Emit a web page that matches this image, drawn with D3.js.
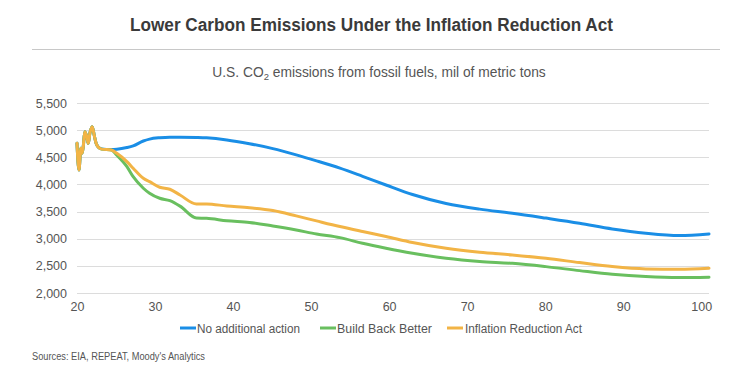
<!DOCTYPE html>
<html>
<head>
<meta charset="utf-8">
<script src="https://cdn.jsdelivr.net/npm/d3@7"></script>
<style>
  html, body { margin: 0; padding: 0; background: #fff; }
  svg { display: block; font-family: "Liberation Sans", Arial, sans-serif; }
</style>
</head>
<body>
<svg id="chart" width="745" height="378"></svg>
<script>
// ---- Data ----
const periods = [20.0, 20.25, 20.5, 20.65, 20.8, 21.0, 21.25, 21.45, 21.65, 21.95, 22.2, 22.45, 22.75, 23.15,
  24.4, 25.1, 26.4, 27.2, 28.5, 29.3, 30.6, 31.9, 33.2, 35.3, 36.6, 39.2, 42.1, 45.1, 48.1, 50.7,
  53.7, 56.6, 59.6, 63.0, 67.3, 71.6, 75.8, 80.1, 84.4, 88.6, 92.9, 97.2, 101];

const noAction = [4757, 4266, 4665, 4573, 4697, 4972, 4881, 4757, 4942, 5064, 4911, 4757, 4684, 4655,
  4645, 4650, 4680, 4710, 4800, 4835, 4860, 4870, 4870, 4865, 4858, 4820, 4750, 4660, 4545, 4435,
  4300, 4150, 3990, 3815, 3650, 3545, 3470, 3380, 3285, 3180, 3100, 3057, 3087];

const buildBackBetter = [4757, 4266, 4665, 4573, 4697, 4972, 4881, 4757, 4942, 5064, 4911, 4757, 4684, 4650,
  4635, 4540, 4327, 4142, 3930, 3838, 3745, 3700, 3600, 3380, 3376, 3330, 3300, 3234, 3160, 3087,
  3020, 2915, 2823, 2731, 2639, 2580, 2547, 2486, 2412, 2345, 2302, 2284, 2290];

const inflationReductionAct = [4757, 4266, 4665, 4573, 4697, 4972, 4881, 4757, 4942, 5064, 4911, 4757, 4684, 4650,
  4635, 4573, 4420, 4297, 4113, 4051, 3948, 3911, 3806, 3640, 3640, 3603, 3570, 3518, 3420, 3328,
  3224, 3132, 3040, 2929, 2823, 2750, 2700, 2640, 2560, 2486, 2443, 2437, 2455];

const seriesNames = ["No additional action", "Build Back Better", "Inflation Reduction Act"];
const seriesColors = ["#1a8ee6", "#69bf5f", "#f2b446"];
const xTicks = [20, 30, 40, 50, 60, 70, 80, 90, 100];
const yTicks = [2000, 2500, 3000, 3500, 4000, 4500, 5000, 5500];

const title = "Lower Carbon Emissions Under the Inflation Reduction Act";
const source = "Sources: EIA, REPEAT, Moody's Analytics";

// ---- Layout ----
const svg = d3.select("#chart");
const plot = { left: 77, right: 709, top: 103, bottom: 293 };

const x = d3.scaleLinear().domain([20, 101]).range([plot.left, plot.right]);
const y = d3.scaleLinear().domain([2000, 5500]).range([plot.bottom, plot.top]);

function fitText(sel, width) {
  sel.attr("textLength", width).attr("lengthAdjust", "spacingAndGlyphs");
}

// Title
svg.append("text")
  .attr("x", 130).attr("y", 31)
  .attr("font-size", 18).attr("font-weight", "bold").attr("fill", "#3a3a3a")
  .text(title).call(fitText, 483);

// Rule
svg.append("line")
  .attr("x1", 32).attr("x2", 720).attr("y1", 49.5).attr("y2", 49.5)
  .attr("stroke", "#c8c8c8").attr("stroke-width", 1.2);

// Subtitle
const sub = svg.append("text")
  .attr("x", 379).attr("y", 77).attr("text-anchor", "middle")
  .attr("font-size", 13.8).attr("fill", "#555");
sub.append("tspan").text("U.S. CO");
sub.append("tspan").attr("font-size", 9.5).attr("dy", 3).text("2");
sub.append("tspan").attr("dy", -3).text(" emissions from fossil fuels, mil of metric tons");

// Gridlines
svg.append("g")
  .selectAll("line").data(yTicks).join("line")
  .attr("x1", plot.left).attr("x2", plot.right)
  .attr("y1", d => Math.round(y(d)) + 0.5).attr("y2", d => Math.round(y(d)) + 0.5)
  .attr("stroke", "#dcdcdc").attr("stroke-width", 1);

// Y axis labels
const yAxis = d3.axisLeft(y).tickValues(yTicks).tickFormat(d3.format(",")).tickSize(0).tickPadding(10);
const gy = svg.append("g").attr("transform", `translate(${plot.left},0)`).call(yAxis);
gy.select(".domain").remove();
gy.selectAll("text").attr("font-size", 12.5).attr("fill", "#555").attr("font-family", "Liberation Sans, Arial, sans-serif");

// X axis labels
const xAxis = d3.axisBottom(x).tickValues(xTicks).tickFormat(d3.format("d")).tickSize(0).tickPadding(9);
const gx = svg.append("g").attr("transform", `translate(0,${plot.bottom})`).call(xAxis);
gx.select(".domain").remove();
gx.selectAll("text").attr("font-size", 12.5).attr("fill", "#555").attr("font-family", "Liberation Sans, Arial, sans-serif");

// Lines
const allSeries = [noAction, buildBackBetter, inflationReductionAct];
const line = d3.line()
  .x((d, i) => x(periods[i]))
  .y(d => y(d))
  .curve(d3.curveMonotoneX);

svg.append("g").selectAll("path").data(allSeries).join("path")
  .attr("d", d => line(d))
  .attr("fill", "none")
  .attr("stroke", (d, i) => seriesColors[i])
  .attr("stroke-width", 3)
  .attr("stroke-linejoin", "round")
  .attr("stroke-linecap", "round");

// Legend
const legendItems = [
  { sx: 180, tx: 197, w: 103 },
  { sx: 320, tx: 337, w: 95 },
  { sx: 447, tx: 465, w: 117 }
];
const lg = svg.append("g");
legendItems.forEach((it, i) => {
  lg.append("line")
    .attr("x1", it.sx).attr("x2", it.sx + 16)
    .attr("y1", 328).attr("y2", 328)
    .attr("stroke", seriesColors[i]).attr("stroke-width", 3);
  lg.append("text")
    .attr("x", it.tx).attr("y", 332.5)
    .attr("font-size", 12).attr("fill", "#555")
    .text(seriesNames[i]).call(fitText, it.w);
});

// Source
svg.append("text")
  .attr("x", 32).attr("y", 360)
  .attr("font-size", 10).attr("fill", "#555")
  .text(source).call(fitText, 173);
</script>
</body>
</html>
